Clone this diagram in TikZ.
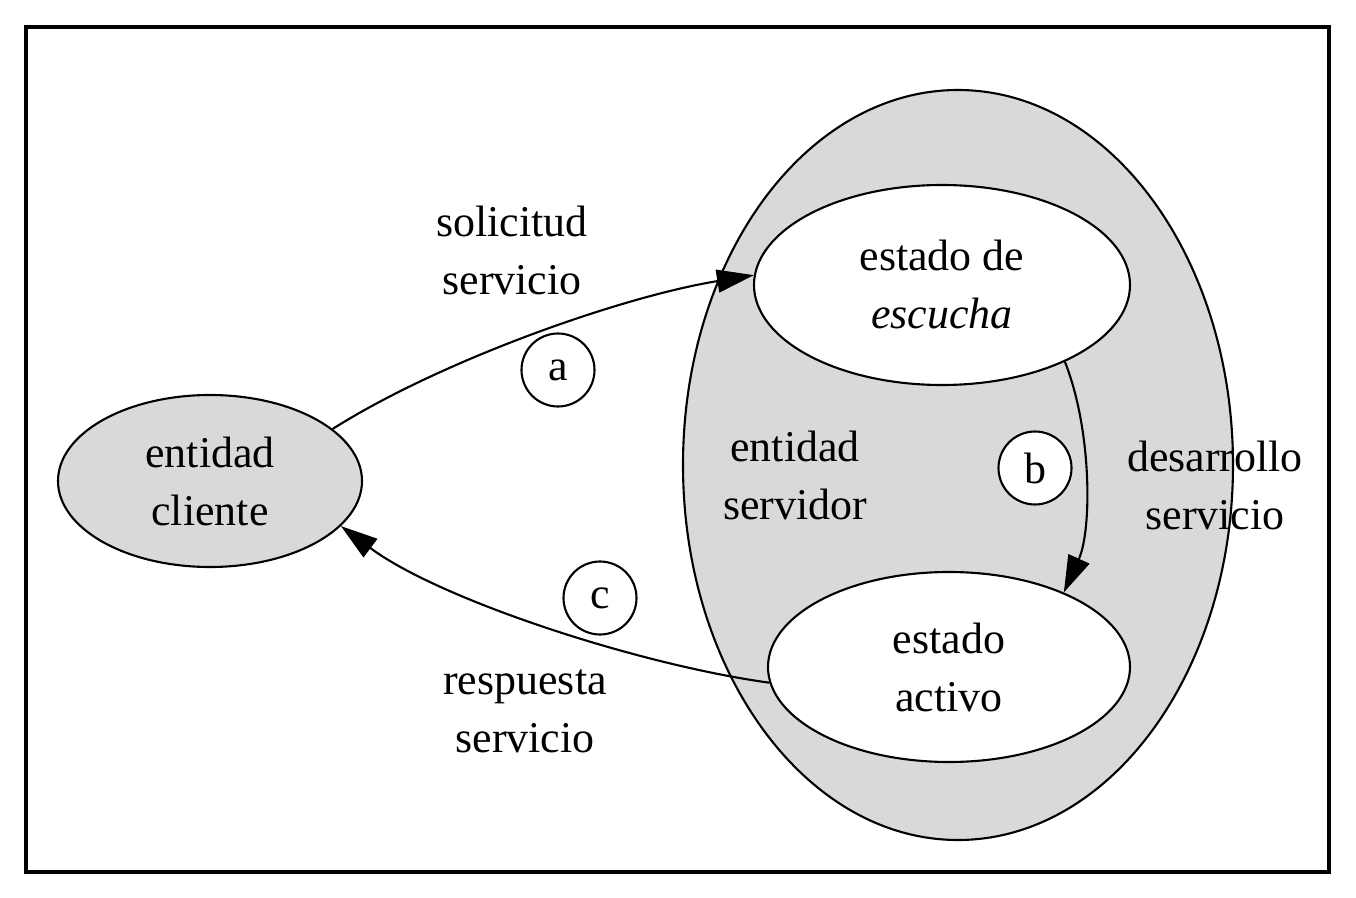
\documentclass[tikz,border=0pt]{standalone}
\usepackage{fontspec}
\setmainfont{Liberation Serif}
\usetikzlibrary{arrows.meta,shapes.geometric}

\begin{document}
\begin{tikzpicture}[
		every node/.style={font=\fontsize{12.5}{16.5}\selectfont, align=center},
		entidad/.style={ellipse, draw, line width=0.6pt, inner sep=0pt},
		paso/.style={circle, draw, line width=0.6pt, fill=white, minimum size=0.73cm, inner sep=0pt},
		flecha/.style={line width=0.6pt, -{Triangle[length=10.5pt, width=6.5pt]}}
	]
		%%%%% START %%%%%
		
		\useasboundingbox (0, 0) rectangle (13.56, 8.97);
		\draw[line width=0.9pt] (0.26, 0.25) rectangle (13.29, 8.70);
		
		\node[entidad, fill=black!15, minimum width=3.04cm, minimum height=1.72cm] (cliente) at (2.10, 4.16) {entidad\\cliente};
		
		\node[entidad, fill=black!15, minimum width=5.50cm, minimum height=7.50cm] (servidor) at (9.58, 4.32) {};
		\node (servidorlbl) at (7.95, 4.22) {entidad\\servidor};
		
		\node[entidad, fill=white, minimum width=3.76cm, minimum height=2.00cm] (escucha) at (9.42, 6.12) {estado de\\\textit{escucha}};
		\node[entidad, fill=white, minimum width=3.62cm, minimum height=1.90cm] (activo) at (9.49, 2.30) {estado\\activo};
		
		\draw[flecha] (cliente.23) .. controls (4.40, 5.36) and (6.20, 6.00) .. (escucha.177);
		\draw[flecha] (escucha.-32) .. controls (10.92, 4.67) and (10.92, 3.67) .. (activo.33);
		\draw[flecha] (activo.185) .. controls (6.40, 2.32) and (4.40, 2.97) .. (cliente.-19);
		
		\node (solicitud) at (5.12, 6.47) {solicitud\\servicio};
		\node (desarrollo) at (12.15, 4.12) {desarrollo\\servicio};
		\node (respuesta) at (5.25, 1.86) {respuesta\\servicio};
		
		\node[paso] (pasoa) at (5.58, 5.27) {a};
		\node[paso] (pasob) at (10.35, 4.29) {b};
		\node[paso] (pasoc) at (6.00, 2.99) {c};
		
		%%%%% END %%%%%
	\end{tikzpicture}
\end{document}
